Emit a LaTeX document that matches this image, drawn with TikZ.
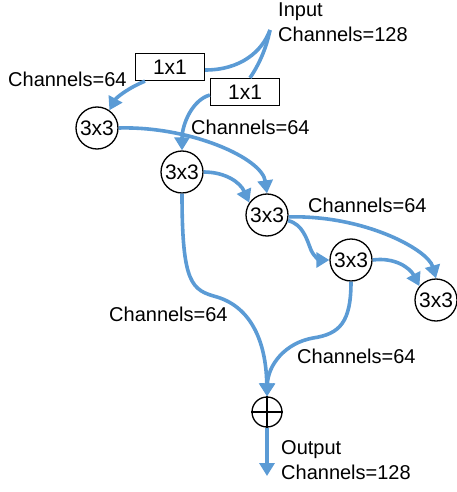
\documentclass[tikz,border=0pt]{standalone}
\usepackage{fontspec}
\setmainfont{Liberation Sans}
\usetikzlibrary{arrows.meta}
\definecolor{flow}{HTML}{5B9BD5}
\tikzset{
  conv/.style={circle,draw=black,line width=1.3pt,minimum size=42pt,inner sep=0pt,font=\fontsize{21}{24}\selectfont},
  onebox/.style={rectangle,draw=black,line width=1.3pt,minimum width=69pt,minimum height=27pt,inner sep=0pt,font=\fontsize{21}{24}\selectfont},
  lbl/.style={inner sep=0pt,font=\fontsize{20}{25}\selectfont,align=left},
  link/.style={draw=flow,line width=3.6pt},
  arr/.style={link,-{Triangle[length=13pt,width=15pt]}},
}
\begin{document}
\begin{tikzpicture}[x=1pt,y=-1pt]
\useasboundingbox (0,0) rectangle (457,492);
\coordinate (in) at (270,30);
\node[lbl,anchor=north west] (inlbl) at (278,3) {Input\\Channels=128};
\node[onebox] (b1) at (170,67) {1x1};
\node[onebox] (b2) at (245,92) {1x1};
\node[conv] (A) at (97,128) {3x3};
\node[conv] (B) at (182,172) {3x3};
\node[conv] (C) at (267,215) {3x3};
\node[conv] (D) at (351,260) {3x3};
\node[conv] (E) at (436,300) {3x3};
\node[circle,draw=black,line width=1.3pt,minimum size=30pt,inner sep=0pt] (op) at (267,412) {};
\draw[line width=1.3pt] (op.north)--(op.south) (op.west)--(op.east);
\coordinate (out) at (267,476);
\node[lbl,anchor=west] (l1) at (8,79) {Channels=64};
\node[lbl,anchor=west] (l2) at (191,127) {Channels=64};
\node[lbl,anchor=west] (l3) at (308,205) {Channels=64};
\node[lbl,anchor=west] (l4) at (109,314) {Channels=64};
\node[lbl,anchor=west] (l5) at (297,356) {Channels=64};
\node[lbl,anchor=north west] (outlbl) at (281,440) {Output\\Channels=128};
% connectors
\draw[link] (in) .. controls (262,52) and (240,70) .. ([yshift=-3pt]b1.east);
\draw[link] (in) .. controls (266,50) and (258,66) .. ([xshift=5pt]b2.north);
\draw[arr] ([xshift=-25pt]b1.south) .. controls (128,88) and (116,98) .. (A.55);
\draw[arr] ([yshift=-3pt]b2.west) .. controls (192,100) and (182,125) .. (B.north);
\draw[arr] (A.east) .. controls (190,126) and (262,158) .. (C.north);
\draw[arr] (B.east) .. controls (225,172) and (240,182) .. (C.145);
\draw[arr] (C.-5) .. controls (365,215) and (428,250) .. (E.north);
\draw[arr] (C.-15) .. controls (303,224) and (307,240) .. (311,250) .. controls (314,257) and (320,260) .. (D.west);
\draw[arr] (D.east) .. controls (395,257) and (410,268) .. (E.140);
\draw[arr] (B.south) .. controls (182,285) and (192,290) .. (217,297) .. controls (250,307) and (266,340) .. (op.north);
\draw[arr] (D.south) .. controls (351,322) and (340,334) .. (313,338) .. controls (285,343) and (268,365) .. (op.north);
\draw[arr] (op.south) -- (out);
\end{tikzpicture}
\end{document}
